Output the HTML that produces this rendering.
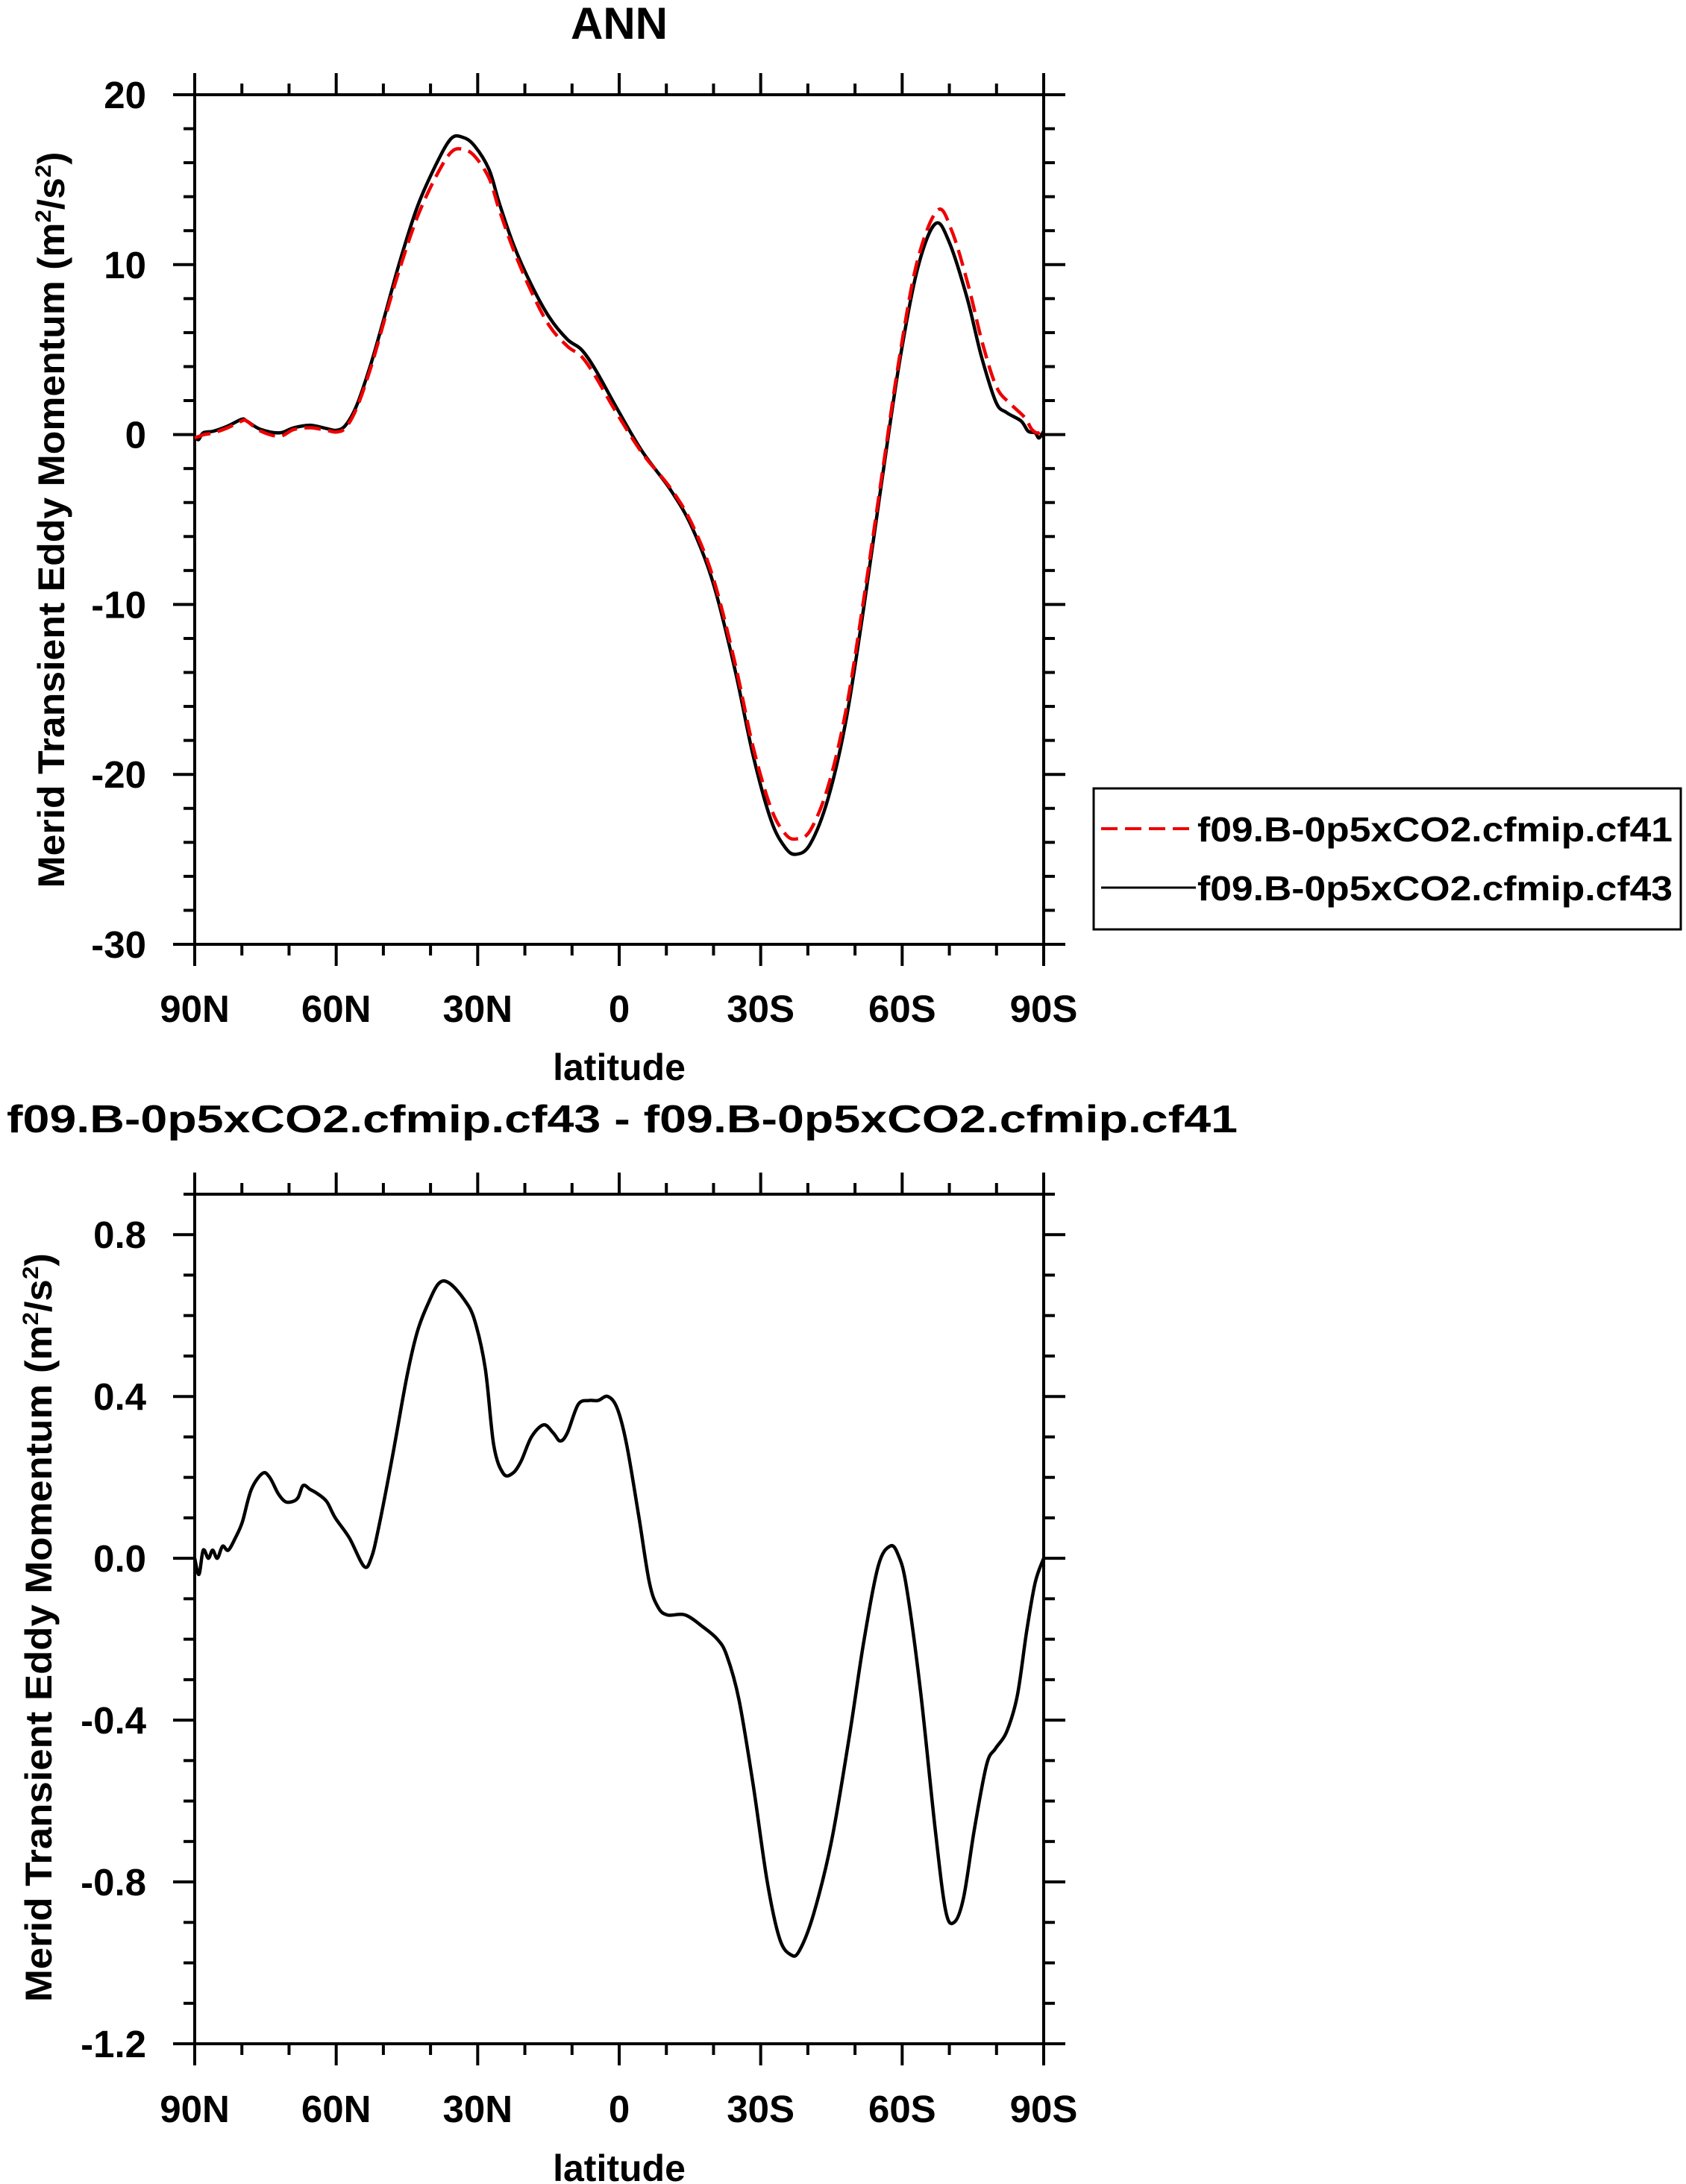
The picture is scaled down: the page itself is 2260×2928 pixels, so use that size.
<!DOCTYPE html>
<html><head><meta charset="utf-8"><style>
html,body{margin:0;padding:0;background:#fff;}
svg{display:block;}
text{font-family:"Liberation Sans",Arial,sans-serif;font-weight:bold;fill:#000;}
</style></head><body>
<svg id="s" width="2260" height="2928" viewBox="0 0 2260 2928" xmlns="http://www.w3.org/2000/svg">
<g id="g"></g>
<text x="830" y="52" font-size="60" text-anchor="middle">ANN</text>
<text x="830" y="1448" font-size="50" text-anchor="middle">latitude</text>
<text x="9" y="1518" font-size="52" textLength="1650" lengthAdjust="spacingAndGlyphs">f09.B-0p5xCO2.cfmip.cf43 - f09.B-0p5xCO2.cfmip.cf41</text>
<text x="830" y="2924" font-size="50" text-anchor="middle">latitude</text>
<text transform="translate(86,697) rotate(-90)" font-size="50" text-anchor="middle" textLength="987" lengthAdjust="spacingAndGlyphs">Merid Transient Eddy Momentum (m<tspan dy="-18" font-size="30">2</tspan><tspan dy="18">/s</tspan><tspan dy="-18" font-size="30">2</tspan><tspan dy="18">)</tspan></text>
<text transform="translate(69,2182) rotate(-90)" font-size="50" text-anchor="middle" textLength="1004" lengthAdjust="spacingAndGlyphs">Merid Transient Eddy Momentum (m<tspan dy="-18" font-size="30">2</tspan><tspan dy="18">/s</tspan><tspan dy="-18" font-size="30">2</tspan><tspan dy="18">)</tspan></text>
<rect x="1466" y="1057" width="787" height="189" fill="none" stroke="#000" stroke-width="3"/>
<line x1="1476" y1="1111" x2="1603" y2="1111" stroke="#e00" stroke-width="4" stroke-dasharray="22,10"/>
<line x1="1476" y1="1190" x2="1603" y2="1190" stroke="#000" stroke-width="3"/>
<text x="1605" y="1128" font-size="46" textLength="637" lengthAdjust="spacingAndGlyphs">f09.B-0p5xCO2.cfmip.cf41</text>
<text x="1605" y="1207" font-size="46" textLength="637" lengthAdjust="spacingAndGlyphs">f09.B-0p5xCO2.cfmip.cf43</text>
</svg>
<script>
var NS="http://www.w3.org/2000/svg",g=document.getElementById('g');
function el(n,a,t){var e=document.createElementNS(NS,n);for(var k in a)e.setAttribute(k,a[k]);if(t!==undefined)e.textContent=t;g.appendChild(e);return e;}
function ln(x1,y1,x2,y2,w){el('line',{x1:x1,y1:y1,x2:x2,y2:y2,stroke:'#000','stroke-width':w||4});}
var L=261,R=1399;
function X(t){return L+t*(R-L)/180;}
function axes(T,B,vmin,vmax,maj,minr,fmt,labY,xlabY,labs){
  function Y(v){return B-(v-vmin)*(B-T)/(vmax-vmin);}
  el('rect',{x:L,y:T,width:R-L,height:B-T,fill:'none',stroke:'#000','stroke-width':4});
  for(var t=0;t<=180;t+=10){var m=t%30==0,l=m?29:15;ln(X(t),B,X(t),B+l);ln(X(t),T,X(t),T-l);}
  var n=Math.round((vmax-vmin)/minr);
  for(var i=0;i<=n;i++){var v=vmin+i*minr;var m=Math.abs(v/maj-Math.round(v/maj))<1e-6,l=m?29:15;var y=Y(v);
    ln(L,y,L-l,y);ln(R,y,R+l,y);
    if(m&&labs(v))el('text',{x:196,y:y+18,'font-size':51,'text-anchor':'end'},fmt(v));}
  var xl=['90N','60N','30N','0','30S','60S','90S'];
  for(var k=0;k<7;k++)el('text',{x:X(k*30),y:xlabY,'font-size':51,'text-anchor':'middle'},xl[k]);
  return Y;
}
function path(pts,Y,attrs){
  var p=pts.map(function(q){return [X(q[0]),Y(q[1])];});
  var d='M'+p[0][0].toFixed(1)+','+p[0][1].toFixed(1);
  for(var i=0;i<p.length-1;i++){var p0=p[i-1]||p[i],p1=p[i],p2=p[i+1],p3=p[i+2]||p2;
    var c1=[p1[0]+(p2[0]-p0[0])/6,p1[1]+(p2[1]-p0[1])/6],c2=[p2[0]-(p3[0]-p1[0])/6,p2[1]-(p3[1]-p1[1])/6];
    d+='C'+c1[0].toFixed(1)+','+c1[1].toFixed(1)+' '+c2[0].toFixed(1)+','+c2[1].toFixed(1)+' '+p2[0].toFixed(1)+','+p2[1].toFixed(1);}
  attrs.d=d;attrs.fill='none';el('path',attrs);
}
var Y1=axes(127,1266,-30,20,10,2,function(v){return ''+v;},0,1370,function(){return true;});
var blk=[[0,-0.1],[0.8,-0.3],[1.8,0.1],[4,0.2],[7,0.5],[10,0.9],[11,0.8],[14,0.3],[18,0.1],[21,0.4],[24.5,0.55],[28,0.35],[30,0.25],[32,0.55],[34.4,1.75],[37.4,4.2],[40.4,7.1],[43.4,10.1],[47.2,13.4],[51,15.8],[54.3,17.4],[56.8,17.5],[59.3,17.0],[62.4,15.6],[64.6,13.6],[67.7,11.1],[71.4,8.8],[75.2,6.9],[79,5.6],[82,5.0],[85,3.8],[89.6,1.5],[94.9,-1.0],[101,-3.3],[105.5,-5.5],[110,-8.8],[114.6,-13.9],[118.4,-18.9],[122.2,-22.7],[125.2,-24.3],[127.5,-24.7],[130.5,-24.1],[134.3,-21.4],[138.1,-16.8],[141.9,-10.1],[145.6,-2.9],[149.4,4.2],[153.2,9.7],[157,12.4],[160,11.3],[163.8,8.0],[166.8,4.6],[169.9,1.9],[172.1,1.3],[175.2,0.8],[176.7,0.2],[178.2,0.1],[179,-0.2],[180,0.2]];
var red=[[0,-0.2],[1,-0.1],[2,0.0],[4,0.1],[7,0.4],[10,0.8],[11,0.8],[14,0.2],[18,-0.1],[21,0.3],[24.5,0.4],[28,0.25],[30,0.15],[32,0.4],[34.4,1.6],[37.4,4.0],[40.4,6.9],[43.4,9.7],[47.2,12.8],[51,15.1],[54.3,16.6],[56.8,16.8],[59.3,16.4],[62.4,15.1],[64.6,13.2],[67.7,10.8],[71.4,8.4],[75.2,6.4],[79,5.2],[82,4.6],[85,3.4],[89.6,1.2],[94.9,-1.1],[101,-3.2],[105.5,-5.3],[110,-8.5],[114.6,-13.5],[118.4,-18.4],[122.2,-22.0],[125.2,-23.5],[127.5,-23.8],[130.5,-23.3],[134.3,-20.7],[138.1,-16.2],[141.9,-9.6],[145.6,-2.6],[149.4,4.5],[153.2,10.2],[157.5,13.2],[160.5,12.0],[164,8.8],[167,5.4],[170,2.8],[173,1.8],[176,1.0],[177.5,0.3],[179,0.1],[180,0.5]];
path(blk,Y1,{stroke:'#000','stroke-width':4.5});
path(red,Y1,{stroke:'#e00','stroke-width':4.5,'stroke-dasharray':'22,10'});
var Y2=axes(1601,2740,-1.2,0.9,0.4,0.1,function(v){return v.toFixed(1);},0,2845,function(v){return v<0.85;});
var dif=[[0,0],[0.9,-0.04],[1.8,0.02],[2.9,0.0],[3.8,0.02],[4.8,0.0],[5.9,0.03],[7.1,0.02],[8.6,0.05],[10.1,0.09],[12,0.17],[14.4,0.21],[15.9,0.2],[17.7,0.16],[19.2,0.14],[20.7,0.14],[21.9,0.15],[23,0.18],[24.5,0.17],[26,0.16],[28,0.14],[29.8,0.1],[32.8,0.05],[35.9,-0.02],[37.4,0.0],[38.9,0.07],[41.9,0.25],[45,0.45],[47.2,0.56],[49.5,0.63],[51.8,0.68],[54,0.68],[57.1,0.64],[59.3,0.59],[61.6,0.47],[63.4,0.28],[65.4,0.21],[67.4,0.21],[69.2,0.24],[71.4,0.3],[74,0.33],[76,0.31],[77.5,0.29],[79,0.31],[81.3,0.38],[83.6,0.39],[85.5,0.39],[87.6,0.4],[89.6,0.37],[91.6,0.28],[94.2,0.1],[96.4,-0.06],[98.2,-0.12],[100.2,-0.14],[104,-0.14],[107.8,-0.17],[110.8,-0.2],[112.8,-0.24],[115.4,-0.35],[118.4,-0.56],[121.4,-0.8],[124,-0.94],[126.4,-0.98],[128.2,-0.97],[131.2,-0.88],[135,-0.7],[138.8,-0.44],[141.8,-0.21],[144.9,-0.02],[147.4,0.03],[149.1,0.01],[150.9,-0.07],[153.9,-0.33],[157,-0.67],[159.2,-0.87],[161,-0.9],[163,-0.84],[165.3,-0.67],[167.9,-0.51],[169.8,-0.47],[172.1,-0.43],[174.4,-0.34],[176.4,-0.18],[178.2,-0.06],[180,0]];
path(dif,Y2,{stroke:'#000','stroke-width':4.5});
</script>
</body></html>
